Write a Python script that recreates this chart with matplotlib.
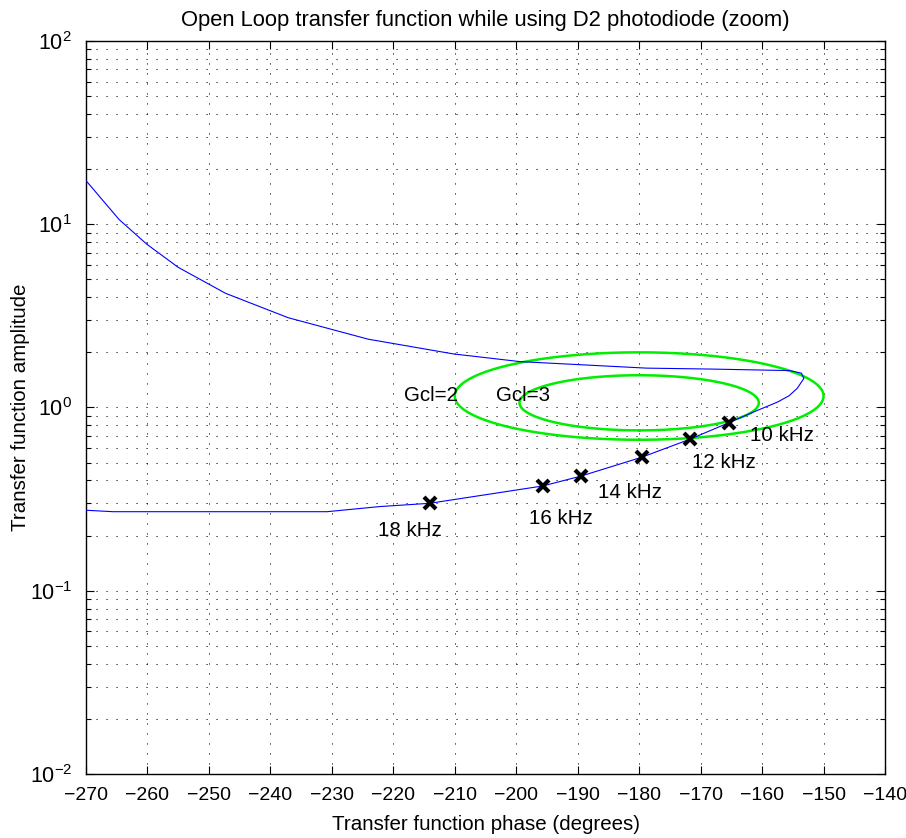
import numpy as np
import matplotlib
matplotlib.use("Agg")
import matplotlib.pyplot as plt
from matplotlib.ticker import LogLocator, NullFormatter

plt.rcParams['font.family'] = ['Liberation Sans', 'DejaVu Sans']
plt.rcParams['mathtext.fontset'] = 'custom'
plt.rcParams['mathtext.rm'] = 'Liberation Sans'
plt.rcParams['mathtext.it'] = 'Liberation Sans'
plt.rcParams['mathtext.bf'] = 'Liberation Sans'
plt.rcParams['lines.scale_dashes'] = False

# ---- data ----
# open-loop transfer function (phase in degrees, amplitude)
ol_phase = [-270, -264.6, -260.1, -255.0, -247.3, -237.1, -224.1, -210.2, -199.4,
            -178.8, -167.9, -155.5, -153.6, -153.2, -154.3, -155.6, -157.5,
            -160.9, -165.4, -171.8, -179.6, -189.5, -195.7, -214.1, -222.2,
            -230.8, -265.6, -270]
ol_amp = [17.3, 10.6, 7.78, 5.82, 4.20, 3.09, 2.36, 1.96, 1.78,
          1.64, 1.62, 1.59, 1.54, 1.44, 1.27, 1.16, 1.07,
          0.96, 0.826, 0.67, 0.535, 0.422, 0.373, 0.300, 0.288,
          0.270, 0.270, 0.275]

# frequency markers
mark_phase = [-165.4, -171.8, -179.6, -189.5, -195.7, -214.1]
mark_amp = [0.826, 0.67, 0.535, 0.422, 0.373, 0.300]

freq_labels = ['10 kHz', '12 kHz', '14 kHz', '16 kHz', '18 kHz']
freq_label_phase = [-162.0, -171.45, -186.7, -197.9, -222.5]
freq_label_amp = [0.699, 0.500, 0.343, 0.249, 0.212]

# closed-loop gain contours
gcl_values = [2, 3]
gcl_labels = ['Gcl=2', 'Gcl=3']
gcl_label_phase = [-218.3, -203.3]
gcl_label_amp = [1.17, 1.17]

xticks = list(range(-270, -139, 10))

FS = 14.8

# ---- figure ----
fig = plt.figure(figsize=(9.06, 8.38), dpi=100)
ax = fig.add_axes([86/906, 64/838, 799/906, 733/838])
ax.set_yscale('log')
ax.set_xlim(-270, -140)
ax.set_ylim(1e-2, 1e2)

ax.plot(ol_phase, ol_amp, color='#0000ff', lw=0.8, zorder=3)

t = np.linspace(0, 2*np.pi, 721)
for M in gcl_values:
    c = -M**2 / (M**2 - 1.0)
    r = M / (M**2 - 1.0)
    G = c + r*np.exp(1j*t)
    ph = np.angle(G, deg=True)
    ph = np.where(ph > 0, ph - 360, ph)
    ax.plot(ph, np.abs(G), color='#00ee00', lw=1.8, zorder=2)

ax.plot(mark_phase, mark_amp, ls='none', marker='x', color='black',
        markersize=8, mew=3.0, zorder=4)

for s, x, y in zip(freq_labels, freq_label_phase, freq_label_amp):
    ax.text(x, y, s, fontsize=FS, ha='left', va='center', zorder=5)
for s, x, y in zip(gcl_labels, gcl_label_phase, gcl_label_amp):
    ax.text(x, y, s, fontsize=FS, ha='left', va='center', zorder=5)

ax.set_xticks(xticks)
ax.set_xticklabels([f'\u2212{abs(v)}' for v in xticks])
ax.yaxis.set_major_locator(LogLocator(base=10, numticks=10))
ax.yaxis.set_minor_locator(LogLocator(base=10, subs=np.arange(2, 10), numticks=20))
ax.yaxis.set_minor_formatter(NullFormatter())

gridkw = dict(color='black', lw=0.7, linestyle=(0, (0.8, 6.4)))
ax.grid(True, which='major', axis='both', **gridkw)
ax.grid(True, which='minor', axis='y', **gridkw)

ax.tick_params(which='both', direction='in', top=True, right=True,
               width=0.8, colors='black')
ax.tick_params(which='major', length=5.5)
ax.tick_params(which='minor', length=3.5)
ax.tick_params(axis='x', which='major', labelsize=14, pad=9)
ax.tick_params(axis='y', which='major', labelsize=15.5, pad=10)
for sp in ax.spines.values():
    sp.set_linewidth(1.0)

ax.set_xlabel('Transfer function phase (degrees)', fontsize=FS, labelpad=8)
ax.set_ylabel('Transfer function amplitude', fontsize=FS)
ax.yaxis.set_label_coords((30 - 86) / 799, 0.5)
ax.set_title('Open Loop transfer function while using D2 photodiode (zoom)',
             fontsize=15.8, pad=11)

fig.savefig('out.png', dpi=100)
